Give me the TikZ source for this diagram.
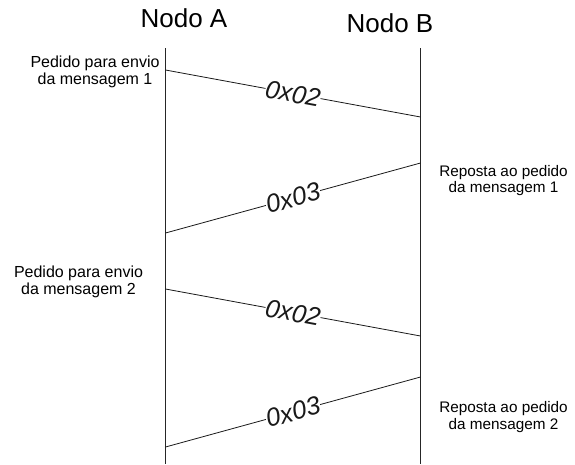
\documentclass[tikz,border=0pt]{standalone}
\usepackage{fontspec}
\setmainfont{Liberation Sans}
\begin{document}
\begin{tikzpicture}[x=1pt,y=-1pt,
  lifeline/.style={line width=0.9pt, black!85},
  msg/.style={line width=0.8pt, black!90},
  msglabel/.style={midway, sloped, fill=white, inner sep=0.3pt,
    font=\fontsize{25.5}{28}\selectfont\itshape},
  header/.style={anchor=base, inner sep=0pt, font=\fontsize{26}{29}\selectfont},
  noteL/.style={align=center, inner sep=0pt, font=\fontsize{16}{16.5}\selectfont},
  noteR/.style={align=center, inner sep=0pt, font=\fontsize{15.3}{16.5}\selectfont}]
  \useasboundingbox (0,0) rectangle (575,464);

  % headers
  \node[header] (hA) at (184,27) {Nodo A};
  \node[header] (hB) at (390,32) {Nodo B};

  % lifelines
  \coordinate (topA) at (165.5,48);
  \coordinate (botA) at (165.5,464);
  \coordinate (topB) at (420.5,48);
  \coordinate (botB) at (420.5,464);
  \draw[lifeline] (topA) -- (botA);
  \draw[lifeline] (topB) -- (botB);

  % message end points
  \coordinate (a1) at (165.5,70);  \coordinate (b1) at (420.5,117);
  \coordinate (a2) at (165.5,233); \coordinate (b2) at (420.5,163);
  \coordinate (a3) at (165.5,289); \coordinate (b3) at (420.5,336);
  \coordinate (a4) at (165.5,447); \coordinate (b4) at (420.5,377);

  % messages
  \draw[msg] (a1) -- node[msglabel] (l1) {0x02} (b1);
  \draw[msg] (a2) -- node[msglabel] (l2) {0x03} (b2);
  \draw[msg] (a3) -- node[msglabel] (l3) {0x02} (b3);
  \draw[msg] (a4) -- node[msglabel] (l4) {0x03} (b4);

  % annotations
  \node[noteL] (n1) at (95,72) {Pedido para envio\\da mensagem 1};
  \node[noteR] (n2) at (503.5,180.5) {Reposta ao pedido\\da mensagem 1};
  \node[noteL] (n3) at (78.5,282) {Pedido para envio\\da mensagem 2};
  \node[noteR] (n4) at (503.5,417) {Reposta ao pedido\\da mensagem 2};
\end{tikzpicture}
\end{document}
